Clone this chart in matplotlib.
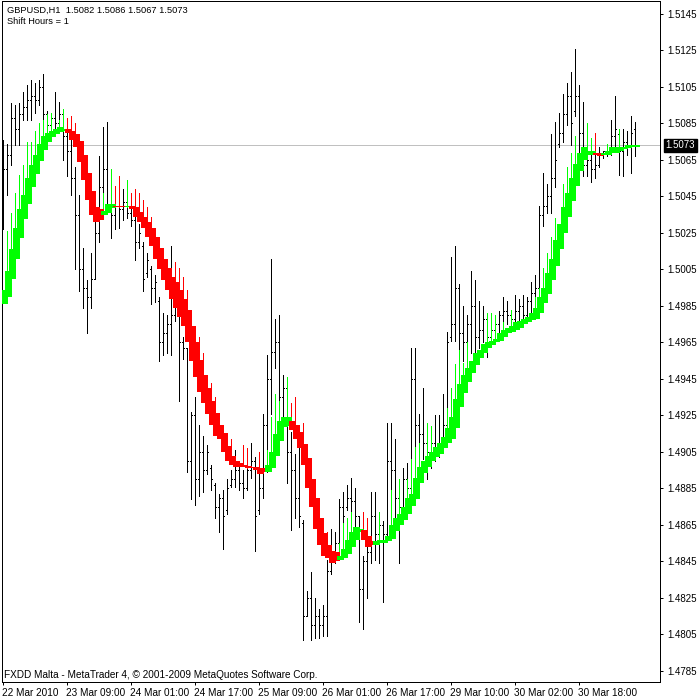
import matplotlib
matplotlib.use("Agg")
import matplotlib.pyplot as plt
import matplotlib.transforms as mtransforms
import numpy as np

# ---------------- data ----------------
highs = [1.5076, 1.5074, 1.5096, 1.5095, 1.5096, 1.5102, 1.5106, 1.5109, 1.5107, 1.5109,
 1.5112, 1.5092, 1.5091, 1.5102, 1.5097, 1.5092, 1.5085, 1.5080, 1.5061, 1.5046,
 1.5017, 1.4999, 1.5014, 1.5034, 1.5067, 1.5083, 1.5086, 1.5047, 1.5046, 1.5051,
 1.5049, 1.5047, 1.5043, 1.5034, 1.5030, 1.5020, 1.5014, 1.5007, 1.5002, 1.4990,
 1.4981, 1.4980, 1.5018, 1.5006, 1.4994, 1.4968, 1.4962, 1.4927, 1.4935, 1.4920,
 1.4914, 1.4909, 1.4898, 1.4888, 1.4882, 1.4884, 1.4890, 1.4895, 1.4906, 1.4899,
 1.4895, 1.4901, 1.4910, 1.4902, 1.4894, 1.4926, 1.4958, 1.5011, 1.4978, 1.4980,
 1.4947, 1.4942, 1.4916, 1.4904, 1.4910, 1.4868, 1.4829, 1.4839, 1.4825, 1.4819,
 1.4821, 1.4846, 1.4863, 1.4861, 1.4879, 1.4883, 1.4887, 1.4891, 1.4885, 1.4870,
 1.4848, 1.4856, 1.4883, 1.4883, 1.4872, 1.4867, 1.4921, 1.4921, 1.4912, 1.4890,
 1.4896, 1.4899, 1.4962, 1.4962, 1.4926, 1.4940, 1.4920, 1.4919, 1.4925, 1.4925,
 1.4937, 1.4971, 1.5012, 1.5018, 1.4997, 1.4985, 1.4980, 1.5004, 1.4999, 1.4988,
 1.4985, 1.4980, 1.4976, 1.4978, 1.4982, 1.4990, 1.4988, 1.4983, 1.4991, 1.4989,
 1.4991, 1.4990, 1.4998, 1.5002, 1.5040, 1.5058, 1.5052, 1.5079, 1.5086, 1.5091,
 1.5101, 1.5107, 1.5113, 1.5126, 1.5106, 1.5097, 1.5070, 1.5068, 1.5069, 1.5072,
 1.5070, 1.5072, 1.5087, 1.5100, 1.5080, 1.5082, 1.5081, 1.5089, 1.5086]

lows = [1.5027, 1.5046, 1.5062, 1.5073, 1.5073, 1.5087, 1.5087, 1.5087, 1.5091, 1.5095,
 1.5073, 1.5078, 1.5081, 1.5080, 1.5083, 1.5065, 1.5056, 1.5046, 1.5005, 1.4993,
 1.4984, 1.4970, 1.4984, 1.5000, 1.5020, 1.5036, 1.5038, 1.5022, 1.5027, 1.5028,
 1.5032, 1.5033, 1.5029, 1.5010, 1.5017, 1.4993, 1.5001, 1.4986, 1.4987, 1.4955,
 1.4958, 1.4959, 1.4958, 1.4977, 1.4933, 1.4956, 1.4894, 1.4879, 1.4876, 1.4881,
 1.4883, 1.4893, 1.4884, 1.4869, 1.4861, 1.4852, 1.4871, 1.4886, 1.4886, 1.4884,
 1.4880, 1.4884, 1.4891, 1.4851, 1.4871, 1.4880, 1.4894, 1.4926, 1.4951, 1.4919,
 1.4924, 1.4888, 1.4862, 1.4869, 1.4864, 1.4802, 1.4815, 1.4802, 1.4803, 1.4803,
 1.4804, 1.4804, 1.4838, 1.4844, 1.4850, 1.4862, 1.4873, 1.4872, 1.4855, 1.4812,
 1.4808, 1.4825, 1.4844, 1.4846, 1.4844, 1.4823, 1.4859, 1.4873, 1.4862, 1.4844,
 1.4869, 1.4875, 1.4881, 1.4908, 1.4902, 1.4901, 1.4890, 1.4896, 1.4900, 1.4902,
 1.4906, 1.4909, 1.4966, 1.4966, 1.4955, 1.4955, 1.4956, 1.4959, 1.4959, 1.4962,
 1.4965, 1.4957, 1.4965, 1.4970, 1.4970, 1.4976, 1.4975, 1.4973, 1.4975, 1.4976,
 1.4976, 1.4976, 1.4981, 1.4983, 1.4983, 1.5029, 1.5036, 1.5036, 1.5050, 1.5072,
 1.5075, 1.5084, 1.5073, 1.5089, 1.5065, 1.5056, 1.5056, 1.5053, 1.5055, 1.5061,
 1.5066, 1.5067, 1.5068, 1.5070, 1.5057, 1.5056, 1.5068, 1.5058, 1.5067]

opens = [1.5040, 1.5060, 1.5068, 1.5088, 1.5082, 1.5090, 1.5094, 1.5098, 1.5100, 1.5098,
 1.5105, 1.5090, 1.5084, 1.5088, 1.5085, 1.5090, 1.5078, 1.5070, 1.5055, 1.5035,
 1.5005, 1.4995, 1.4990, 1.5000, 1.5025, 1.5050, 1.5060, 1.5040, 1.5035, 1.5040,
 1.5038, 1.5042, 1.5036, 1.5032, 1.5020, 1.5018, 1.5003, 1.5005, 1.4995, 1.4988,
 1.4965, 1.4970, 1.4975, 1.4980, 1.4990, 1.4965, 1.4962, 1.4900, 1.4925, 1.4890,
 1.4905, 1.4895, 1.4896, 1.4887, 1.4875, 1.4880, 1.4873, 1.4887, 1.4890, 1.4895,
 1.4888, 1.4885, 1.4895, 1.4900, 1.4873, 1.4885, 1.4920, 1.4945, 1.4960, 1.4965,
 1.4935, 1.4940, 1.4905, 1.4895, 1.4880, 1.4866, 1.4815, 1.4825, 1.4810, 1.4815,
 1.4810, 1.4815, 1.4840, 1.4850, 1.4855, 1.4875, 1.4875, 1.4880, 1.4878, 1.4870,
 1.4830, 1.4845, 1.4850, 1.4870, 1.4860, 1.4865, 1.4860, 1.4900, 1.4895, 1.4880,
 1.4875, 1.4890, 1.4885, 1.4945, 1.4920, 1.4915, 1.4910, 1.4905, 1.4910, 1.4905,
 1.4910, 1.4920, 1.4968, 1.4975, 1.4995, 1.4970, 1.4965, 1.4975, 1.4985, 1.4968,
 1.4972, 1.4978, 1.4968, 1.4972, 1.4975, 1.4980, 1.4982, 1.4980, 1.4978, 1.4982,
 1.4985, 1.4980, 1.4988, 1.4992, 1.4995, 1.5035, 1.5040, 1.5045, 1.5055, 1.5074,
 1.5080, 1.5090, 1.5100, 1.5092, 1.5100, 1.5080, 1.5062, 1.5065, 1.5060, 1.5062,
 1.5068, 1.5070, 1.5070, 1.5078, 1.5079, 1.5070, 1.5075, 1.5072, 1.5082]

closes = [1.5060, 1.5068, 1.5088, 1.5082, 1.5090, 1.5094, 1.5098, 1.5100, 1.5098, 1.5105,
 1.5090, 1.5084, 1.5088, 1.5085, 1.5090, 1.5078, 1.5070, 1.5055, 1.5035, 1.5005,
 1.4995, 1.4990, 1.5000, 1.5025, 1.5050, 1.5060, 1.5040, 1.5035, 1.5040, 1.5038,
 1.5042, 1.5036, 1.5032, 1.5020, 1.5025, 1.5000, 1.5010, 1.4995, 1.4998, 1.4965,
 1.4970, 1.4975, 1.4980, 1.4990, 1.4965, 1.4962, 1.4900, 1.4925, 1.4890, 1.4905,
 1.4895, 1.4905, 1.4890, 1.4875, 1.4880, 1.4870, 1.4885, 1.4890, 1.4895, 1.4888,
 1.4885, 1.4895, 1.4900, 1.4870, 1.4885, 1.4920, 1.4945, 1.4960, 1.4965, 1.4935,
 1.4940, 1.4905, 1.4895, 1.4880, 1.4870, 1.4815, 1.4825, 1.4810, 1.4815, 1.4810,
 1.4815, 1.4840, 1.4850, 1.4855, 1.4875, 1.4870, 1.4880, 1.4878, 1.4870, 1.4830,
 1.4845, 1.4850, 1.4870, 1.4860, 1.4865, 1.4860, 1.4900, 1.4895, 1.4880, 1.4875,
 1.4890, 1.4885, 1.4945, 1.4920, 1.4915, 1.4910, 1.4905, 1.4910, 1.4905, 1.4910,
 1.4920, 1.4965, 1.4975, 1.4995, 1.4970, 1.4965, 1.4975, 1.4985, 1.4968, 1.4972,
 1.4978, 1.4968, 1.4972, 1.4975, 1.4980, 1.4982, 1.4980, 1.4978, 1.4982, 1.4985,
 1.4980, 1.4988, 1.4992, 1.4995, 1.5035, 1.5040, 1.5045, 1.5055, 1.5065, 1.5080,
 1.5090, 1.5100, 1.5085, 1.5100, 1.5080, 1.5062, 1.5065, 1.5060, 1.5062, 1.5068,
 1.5070, 1.5070, 1.5078, 1.5082, 1.5070, 1.5075, 1.5072, 1.5080, 1.5073]

band_hi = [1.4994, 1.5004, 1.5016, 1.5028, 1.5038, 1.5046, 1.5055, 1.5062, 1.5068, 1.5074,
 1.5078, 1.5080, 1.5081, 1.5082, 1.5083, 1.5082, 1.5082, 1.5081, 1.5079, 1.5072,
 1.5062, 1.5053, 1.5044, 1.5038, 1.5038, 1.5037, 1.5041, 1.5041, 1.5040, 1.5040,
 1.5040, 1.5040, 1.5040, 1.5039, 1.5036, 1.5034, 1.5031, 1.5028, 1.5023, 1.5017,
 1.5011, 1.5006, 1.5001, 1.4998, 1.4994, 1.4989, 1.4983, 1.4974, 1.4965, 1.4955,
 1.4947, 1.4940, 1.4933, 1.4926, 1.4919, 1.4912, 1.4906, 1.4902, 1.4900, 1.4899,
 1.4898, 1.4897, 1.4897, 1.4897, 1.4896, 1.4896, 1.4898, 1.4905, 1.4915, 1.4922,
 1.4924, 1.4924, 1.4922, 1.4920, 1.4912, 1.4905, 1.4895, 1.4885, 1.4875, 1.4867,
 1.4859, 1.4854, 1.4850, 1.4850, 1.4848, 1.4852, 1.4857, 1.4861, 1.4864, 1.4863,
 1.4861, 1.4857, 1.4856, 1.4856, 1.4857, 1.4857, 1.4859, 1.4865, 1.4869, 1.4871,
 1.4875, 1.4880, 1.4882, 1.4891, 1.4897, 1.4900, 1.4903, 1.4905, 1.4908, 1.4910,
 1.4913, 1.4918, 1.4924, 1.4934, 1.4942, 1.4947, 1.4951, 1.4955, 1.4959, 1.4961,
 1.4964, 1.4965, 1.4966, 1.4967, 1.4970, 1.4972, 1.4973, 1.4974, 1.4976, 1.4977,
 1.4978, 1.4979, 1.4981, 1.4984, 1.4990, 1.4995, 1.5003, 1.5011, 1.5021, 1.5030,
 1.5039, 1.5047, 1.5055, 1.5063, 1.5069, 1.5072, 1.5070, 1.5070, 1.5069, 1.5069,
 1.5069, 1.5070, 1.5072, 1.5072, 1.5072, 1.5072, 1.5073, 1.5073, 1.5073]

band_lo = [1.4986, 1.4996, 1.5006, 1.5017, 1.5027, 1.5036, 1.5045, 1.5053, 1.5061, 1.5067,
 1.5072, 1.5075, 1.5078, 1.5079, 1.5081, 1.5081, 1.5080, 1.5076, 1.5072, 1.5064,
 1.5054, 1.5043, 1.5035, 1.5031, 1.5032, 1.5035, 1.5036, 1.5039, 1.5039, 1.5039,
 1.5039, 1.5039, 1.5038, 1.5034, 1.5031, 1.5028, 1.5023, 1.5018, 1.5011, 1.5005,
 1.4999, 1.4994, 1.4989, 1.4984, 1.4979, 1.4974, 1.4965, 1.4955, 1.4946, 1.4938,
 1.4932, 1.4926, 1.4920, 1.4914, 1.4912, 1.4905, 1.4900, 1.4898, 1.4897, 1.4897,
 1.4897, 1.4896, 1.4896, 1.4895, 1.4893, 1.4894, 1.4894, 1.4901, 1.4907, 1.4915,
 1.4920, 1.4919, 1.4917, 1.4912, 1.4907, 1.4898, 1.4885, 1.4875, 1.4863, 1.4854,
 1.4848, 1.4847, 1.4844, 1.4845, 1.4846, 1.4847, 1.4849, 1.4853, 1.4858, 1.4861,
 1.4857, 1.4853, 1.4854, 1.4854, 1.4855, 1.4855, 1.4856, 1.4858, 1.4862, 1.4865,
 1.4869, 1.4871, 1.4877, 1.4885, 1.4890, 1.4894, 1.4897, 1.4900, 1.4902, 1.4904,
 1.4907, 1.4910, 1.4912, 1.4925, 1.4933, 1.4940, 1.4946, 1.4950, 1.4954, 1.4958,
 1.4961, 1.4962, 1.4964, 1.4965, 1.4966, 1.4968, 1.4970, 1.4971, 1.4972, 1.4973,
 1.4975, 1.4976, 1.4978, 1.4978, 1.4983, 1.4988, 1.4995, 1.5003, 1.5011, 1.5020,
 1.5029, 1.5038, 1.5046, 1.5055, 1.5061, 1.5068, 1.5068, 1.5068, 1.5068, 1.5067,
 1.5068, 1.5068, 1.5069, 1.5069, 1.5070, 1.5071, 1.5072, 1.5072, 1.5072]

# trend colour of the band, as runs of (direction, number of bars)
band_runs = [("up", 16), ("down", 9), ("up", 3), ("down", 3), ("up", 1), ("down", 34),
             ("up", 6), ("down", 12), ("up", 6), ("down", 3), ("up", 55), ("down", 2),
             ("up", 9)]

# thin indicator lines rising from the band
wick_bars = [1, 2, 3, 4, 5, 6, 7, 8, 9, 10, 11, 12, 14, 15, 16, 17, 18, 23, 25, 27,
             28, 29, 31, 32, 33, 34, 35, 36, 37, 43, 44, 45, 46, 47, 49, 50, 52, 53, 57, 60,
             61, 64, 66, 67, 68, 69, 71, 72, 73, 75, 76, 77, 80, 81, 84, 85, 86, 87, 90, 91,
             94, 97, 99, 101, 102, 103, 104, 106, 107, 111, 112, 113, 114, 115, 116, 121, 122, 123, 125, 127,
             133, 134, 135, 136, 137, 138, 140, 141, 142, 143, 146, 147, 148, 151, 154]
wick_tops = [1.5026, 1.5036, 1.5047, 1.5057, 1.5062, 1.5075, 1.5075, 1.5081, 1.5085, 1.5087,
             1.5090, 1.5091, 1.5087, 1.5093, 1.5088, 1.5089, 1.5085, 1.5047, 1.5047, 1.5060,
             1.5051, 1.5056, 1.5054, 1.5047, 1.5049, 1.5047, 1.5043, 1.5039, 1.5034, 1.5009,
             1.5006, 1.5001, 1.4994, 1.4983, 1.4968, 1.4959, 1.4943, 1.4935, 1.4912, 1.4909,
             1.4907, 1.4905, 1.4906, 1.4924, 1.4937, 1.4933, 1.4946, 1.4932, 1.4935, 1.4921,
             1.4905, 1.4897, 1.4866, 1.4861, 1.4855, 1.4866, 1.4869, 1.4872, 1.4872, 1.4869,
             1.4872, 1.4884, 1.4890, 1.4890, 1.4901, 1.4908, 1.4910, 1.4921, 1.4919, 1.4929,
             1.4940, 1.4953, 1.4961, 1.4954, 1.4965, 1.4981, 1.4981, 1.4980, 1.4976, 1.4983,
             1.4990, 1.4995, 1.5006, 1.5014, 1.5023, 1.5033, 1.5052, 1.5061, 1.5069, 1.5078,
             1.5085, 1.5077, 1.5080, 1.5074, 1.5082]

price_ticks = [1.5145, 1.5125, 1.5105, 1.5085, 1.5065, 1.5045, 1.5025, 1.5005, 1.4985,
               1.4965, 1.4945, 1.4925, 1.4905, 1.4885, 1.4865, 1.4845, 1.4825, 1.4805, 1.4785]
time_tick_bars = [0, 16, 32, 48, 64, 80, 96, 112, 128, 144]
time_labels = ["22 Mar 2010", "23 Mar 09:00", "24 Mar 01:00", "24 Mar 17:00", "25 Mar 09:00",
               "26 Mar 01:00", "26 Mar 17:00", "29 Mar 10:00", "30 Mar 02:00", "30 Mar 18:00"]
bid_price = 1.5073
symbol_info = "GBPUSD,H1  1.5082 1.5086 1.5067 1.5073"
indicator_info = "Shift Hours = 1"
footer = "FXDD Malta - MetaTrader 4, © 2001-2009 MetaQuotes Software Corp."

# ---------------- drawing ----------------
FONT = ['Liberation Sans', 'DejaVu Sans']
UP, DOWN = '#00FF00', '#FF0000'
px = 0.72  # one pixel in points at dpi 100

fig = plt.figure(figsize=(7, 7), dpi=100, facecolor='white')
ax = fig.add_axes([2 / 700, 18 / 700, 658 / 700, 681 / 700])
ax.set_facecolor('white')

n = len(highs)
x = np.arange(n)
hi = np.array(highs); lo = np.array(lows)
op = np.array(opens); cl = np.array(closes)
bh = np.array(band_hi); bl = np.array(band_lo)
colour_of = {"up": UP, "down": DOWN}
bar_colours = []
for c, k in band_runs:
    bar_colours += [colour_of[c]] * k

# each Heiken-Ashi style body starts from the middle of the previous one
mid = (bh + bl) / 2
body_top = bh.copy(); body_bot = bl.copy()
body_top[1:] = np.maximum(bh[1:], mid[:-1])
body_bot[1:] = np.minimum(bl[1:], mid[:-1])

# bid line
ax.axhline(bid_price, color='#C0C0C0', lw=px, zorder=1)

# OHLC bars
ax.vlines(x, lo, hi, color='black', lw=px, antialiased=False, zorder=2)
ax.hlines(op, x - 0.3, x, color='black', lw=px, antialiased=False, zorder=2)
ax.hlines(cl, x, x + 0.3, color='black', lw=px, antialiased=False, zorder=2)

# thin indicator lines
wb = np.array(wick_bars)
ax.vlines(wb, mid[wb], wick_tops, colors=[bar_colours[i] for i in wb],
          lw=px, antialiased=False, zorder=3)

# band bodies
ax.bar(x + 0.4, body_top - body_bot, bottom=body_bot, width=1.8, color=bar_colours,
       linewidth=0, antialiased=False, zorder=4)

ax.set_xlim(-0.25, 164.25)
ax.set_ylim(1.477897, 1.515212)

for s in ax.spines.values():
    s.set_color('black'); s.set_linewidth(px)

ax.yaxis.tick_right()
ax.set_yticks(price_ticks)
ax.set_yticklabels([f"{p:.4f}" for p in price_ticks], family=FONT, fontsize=7)
ax.tick_params(axis='y', direction='out', length=3 * px, width=px, pad=3, colors='black')

ax.set_xticks(time_tick_bars)
ax.set_xticklabels(time_labels, family=FONT, fontsize=7.2, ha='left')
ax.tick_params(axis='x', direction='out', length=3 * px, width=px, pad=2, colors='black')
off = mtransforms.ScaledTranslation(-1 / 100, 0, fig.dpi_scale_trans)
for lab in ax.get_xticklabels():
    lab.set_transform(lab.get_transform() + off)

# bid price label
ax.annotate(f"{bid_price:.4f}", xy=(1.0, bid_price), xycoords=('axes fraction', 'data'),
            xytext=(4, 0), textcoords='offset points', ha='left', va='center',
            color='white', family=FONT, fontsize=7,
            bbox=dict(boxstyle='square,pad=0.15', fc='black', ec='black'))

fig.text(7 / 700, 1 - 10 / 700, symbol_info, family=FONT, fontsize=6.7, va='center', ha='left')
fig.text(7 / 700, 1 - 21 / 700, indicator_info, family=FONT, fontsize=6.7, va='center', ha='left')
fig.text(4 / 700, 1 - 675 / 700, footer, family=FONT, fontsize=7.2, va='center', ha='left')

fig.savefig('out.png', dpi=100, facecolor='white')
